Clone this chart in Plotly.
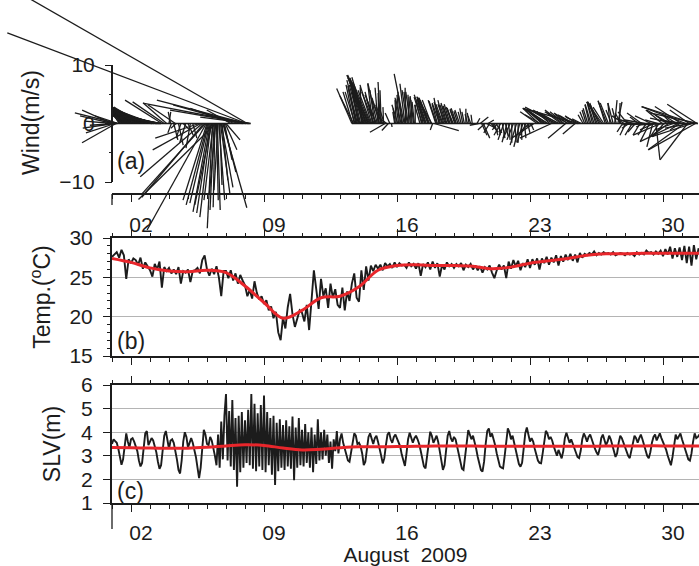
import pandas as pd
import plotly.graph_objects as go

# ---------------- data ----------------
START = pd.Timestamp("2009-08-01")

# (b) temperature, 3-hourly from 2009-08-01 00:00
temp_obs = [
    27.6, 27.9, 28.2, 27.5, 28.5, 27.8, 24.8, 27.3,
    26.8, 27.4, 27.2, 26.6, 27.5, 26.1, 26.9, 26.4,
    25.9, 25.1, 26.7, 26.0, 27.0, 23.7, 26.3, 25.8,
    26.2, 25.5, 26.0, 25.4, 26.3, 24.2, 25.8, 25.6,
    26.0, 24.4, 25.8, 25.9, 26.2, 25.5, 27.2, 27.8,
    26.0, 25.2, 26.1, 25.4, 26.4, 25.0, 22.6, 25.8,
    25.8, 24.9, 25.9, 24.6, 25.5, 24.2, 25.3, 24.6,
    24.0, 22.6, 23.4, 22.3, 24.5, 23.0, 22.2, 22.6,
    21.6, 22.1, 20.8, 21.3, 19.8, 20.6, 18.0, 17.0,
    19.9, 18.5, 21.2, 22.9, 20.3, 18.7, 19.6, 20.8,
    20.5, 19.4, 21.5, 18.3, 22.0, 25.9, 23.5, 21.0,
    24.8, 22.6, 23.6, 21.1, 24.2, 22.4, 23.5, 21.5,
    21.1, 23.7, 20.8, 23.2, 22.0, 24.2, 25.5, 22.4,
    21.9, 25.9, 23.4, 26.4, 24.6, 26.5, 25.8, 26.6,
    26.1, 26.6, 25.9, 26.8, 26.4, 26.7, 26.2, 26.9,
    26.3, 26.8, 26.5, 26.6, 26.2, 26.9, 26.4, 26.7,
    26.1, 26.8, 25.2, 26.7, 26.3, 26.9, 26.0, 27.0,
    26.2, 26.8, 25.1, 26.6, 26.0, 26.9, 26.4, 26.7,
    26.2, 26.7, 26.4, 26.8, 25.9, 26.6, 26.3, 26.7,
    26.0, 26.5, 25.9, 26.4, 25.6, 26.3, 26.0, 26.5,
    25.6, 24.9, 25.9, 26.6, 26.0, 26.5, 24.9, 27.0,
    26.1, 27.2, 26.4, 27.1, 25.9, 26.8, 26.3, 27.3,
    26.2, 27.3, 26.6, 27.4, 26.0, 27.4, 26.8, 27.6,
    26.6, 27.5, 26.9, 27.8, 26.5, 27.7, 27.0, 27.9,
    27.2, 28.0, 27.1, 27.9, 26.9, 28.1, 27.5, 28.0,
    27.8, 28.1, 27.9, 28.3, 27.8, 28.1, 27.9, 28.2,
    28.0, 28.1, 27.9, 28.2, 27.8, 28.0, 28.1, 28.0,
    27.8, 28.1, 27.9, 28.0, 27.7, 28.2, 27.9, 28.1,
    27.9, 28.4, 28.1, 28.2, 27.9, 28.3, 28.0, 28.4,
    27.7, 28.6, 27.9, 28.9, 27.4, 28.7, 27.6, 28.8,
    27.2, 29.0, 26.8, 28.9, 26.5, 29.1, 27.3, 28.7,
]
# (b) low-passed temperature, daily from 2009-08-01
temp_smooth = [27.4, 26.9, 26.2, 25.8, 25.7, 25.9, 25.6, 23.9, 21.8, 19.8,
               20.8, 22.4, 22.6, 23.8, 25.9, 26.5, 26.6, 26.5, 26.5, 26.4,
               26.1, 26.3, 26.8, 27.1, 27.4, 27.8, 28.0, 28.0, 28.05, 28.05,
               28.05, 28.05]

# (c) sea level, 2-hourly from 2009-08-01 00:00
slv_obs = [
    3.50, 3.70, 3.62, 3.55, 3.30, 2.95, 2.62, 2.85, 3.55, 3.95, 3.60, 3.35,
    3.70, 3.75, 3.60, 3.40, 3.20, 2.80, 2.55, 2.70, 3.40, 3.95, 4.05, 3.45,
    3.60, 3.75, 3.65, 3.45, 3.15, 2.75, 2.45, 2.60, 3.30, 3.85, 4.05, 3.70,
    3.30, 3.65, 3.70, 3.55, 3.25, 2.85, 2.40, 2.25, 2.80, 3.60, 4.00, 3.80,
    3.35, 3.55, 3.75, 3.55, 3.30, 2.95, 2.50, 2.05, 2.50, 3.40, 4.10, 3.90,
    3.50, 3.45, 3.80, 3.65, 3.35, 3.00, 2.60, 3.90, 2.50, 4.45, 2.85, 4.70,
    5.62, 2.80, 4.90, 2.55, 5.36, 2.40, 4.60, 1.69, 4.70, 2.30, 4.85, 2.50,
    4.50, 2.70, 4.95, 2.60, 5.62, 2.45, 5.20, 2.35, 4.80, 2.55, 5.15, 2.40,
    5.55, 2.30, 4.85, 2.60, 4.60, 2.20, 4.70, 1.76, 4.40, 2.35, 4.55, 2.50,
    4.30, 2.40, 4.50, 2.55, 4.25, 2.45, 4.66, 1.97, 4.20, 2.50, 4.60, 2.60,
    4.10, 2.55, 4.35, 2.70, 4.00, 2.50, 4.20, 2.30, 3.90, 2.65, 4.55, 2.80,
    4.00, 2.85, 4.10, 3.00, 3.90, 2.70, 3.60, 2.45, 3.70, 3.20, 4.05, 3.10,
    3.70, 3.95, 3.55, 3.30, 3.05, 2.80, 2.75, 3.10, 3.60, 3.95, 3.85, 3.50,
    3.55, 3.40, 3.10, 2.61, 2.75, 3.30, 3.80, 3.95, 3.70, 3.50, 3.75, 3.85,
    3.60, 3.35, 3.00, 2.68, 2.90, 3.45, 3.90, 4.00, 3.70, 3.55, 3.80, 3.90,
    3.75, 3.60, 3.40, 3.05, 2.75, 2.57, 3.10, 3.70, 3.98, 3.80, 3.55, 3.75,
    3.85, 3.70, 3.50, 3.20, 2.85, 2.55, 2.47, 3.00, 3.70, 4.02, 3.85, 3.55,
    3.70, 3.85, 3.60, 3.20, 2.80, 2.40, 2.60, 3.30, 3.85, 4.05, 3.75, 3.60,
    3.80, 3.70, 3.40, 3.05, 2.70, 2.45, 2.40, 2.90, 3.60, 4.09, 3.90, 3.70,
    3.85, 3.60, 3.30, 2.95, 2.60, 2.40, 2.33, 2.75, 3.50, 4.05, 4.16, 3.80,
    3.95, 3.75, 3.45, 3.10, 2.80, 2.55, 2.50, 2.47, 3.00, 3.75, 4.16, 4.00,
    3.70, 3.85, 3.55, 3.20, 2.90, 2.65, 2.54, 2.70, 3.30, 3.95, 4.20, 3.90,
    3.60, 3.75, 3.60, 3.30, 3.00, 2.80, 2.70, 2.68, 3.10, 3.70, 4.06, 3.95,
    3.70, 3.80, 3.65, 3.40, 3.15, 3.00, 3.25, 3.05, 2.89, 3.20, 3.75, 3.98,
    3.80, 3.55, 3.70, 3.50, 3.30, 3.10, 2.95, 2.90, 3.20, 3.70, 3.95, 3.80,
    3.60, 3.80, 3.90, 3.70, 3.45, 3.30, 3.15, 3.03, 3.30, 3.75, 3.90, 3.70,
    3.45, 3.60, 3.85, 3.70, 3.50, 3.20, 2.95, 3.10, 3.55, 3.85, 3.75, 3.55,
    3.40, 3.20, 3.00, 2.90, 3.20, 3.60, 3.85, 3.75, 3.55, 3.75, 3.90, 3.70,
    3.45, 3.20, 3.00, 2.90, 3.15, 3.55, 3.80, 3.90, 3.65, 3.80, 3.95, 3.75,
    3.60, 3.45, 3.25, 3.00, 2.75, 2.60, 2.95, 3.55, 3.90, 3.70, 3.85, 3.95,
    3.70, 3.50, 3.30, 3.05, 2.85, 2.80, 3.10, 3.60, 3.95, 3.75, 3.80, 3.90,
]
slv_smooth = [3.35, 3.34, 3.33, 3.32, 3.32, 3.36, 3.42, 3.47, 3.44, 3.33,
              3.25, 3.28, 3.34, 3.38, 3.38, 3.39, 3.40, 3.41, 3.41, 3.41,
              3.40, 3.40, 3.40, 3.40, 3.40, 3.40, 3.41, 3.41, 3.42, 3.42,
              3.41, 3.41]

# (a) wind sticks: hour after 2009-08-01 00:00, eastward u, northward v (m/s)
wind_hours = ([0, 1, 2, 3, 4, 5, 6, 7, 8]
              + list(range(9, 70, 3))
              + [72, 74, 75, 78, 80, 81, 84, 87, 90, 93, 96, 99, 102]
              + [110, 112, 114, 116, 118, 119]
              + [120, 121, 122, 123, 124, 125, 126, 127, 128, 129, 130, 131, 131,
                 132, 133, 134, 135, 136, 137, 138, 139, 140, 141, 142, 143, 144]
              + [150, 155, 160, 165, 169, 170, 171, 172, 173, 175]
              + [303, 305, 307, 309, 311, 313, 315, 317, 319, 321, 322, 323, 324, 325,
                 326, 327, 329, 331, 333, 335, 337, 339, 341, 343, 345, 347, 349, 351, 353]
              + list(range(357, 384, 2))
              + [389, 391, 393, 395, 397, 399, 401, 403, 404, 405] + list(range(407, 456, 2))
              + list(range(461, 534, 2))
              + list(range(537, 594, 2))
              + list(range(595, 642, 2))
              + list(range(643, 740, 2)) + [740]
              # in-between records
              + [10, 11, 13, 14, 16, 17, 19, 20, 22, 23, 25, 26, 28, 29, 31, 32, 34, 35,
                 37, 38, 40, 41, 43, 44, 46, 47, 49, 50, 52, 53, 55, 56, 58, 59, 61, 62]
              + [304, 306, 308, 310, 312, 314, 316, 318, 320, 328, 330, 332, 334, 336,
                 338, 340, 342, 344]
              + [358, 362, 366, 370, 374, 378, 382]
              + [392, 396, 400, 410, 414, 418, 422, 426, 430, 434])
wind_u = ([-5.1, -5.6, -5.0, -5.4, -5.0, -5.8, -4.6, -7.3, -4.0]
          + [-1.2, -1.45, -2.0, -2.3, -2.8, -3.1, -3.7, -3.7, -4.3, -4.9, -4.8, -5.5, -5.7,
             -6.3, -6.2, -7.0, -6.9, -6.8, -6.3, -5.4, -4.0]
          + [0.3, -0.4, -0.6, 0.7, -4.7, -0.9, 0.8, -0.8, 1.1, -1.0, 0.9, -0.75, 0.7]
          + [-7.5, -8.2, -10.6, -10.6, -11.0, -10.1]
          + [-4.1, -3.7, -3.2, -2.8, -2.3, -1.9, -2.9, -0.9, -1.6, -0.7, -0.3, -1.1, -13.2,
             0.3, 0.5, -0.7, 1.0, 0.4, 1.6, 2.0, 1.0, 4.1, 2.1, 1.3, 2.0, 2.4]
          + [-4.1, -7.6, -11.2, -6.0, -15.2, -40.9, -45.7, -18.0, -13.5, -8.6]
          + [-2.6, -2.3, -1.7, -1.5, -1.4, -1.8, -0.2, -2.2, -2.8, -3.3, -3.2, -2.7, -3.2, -3.7,
             -2.8, -2.2, -0.8, -2.1, -1.5, -1.6, -0.1, -0.4, -1.7, -0.1, -2.6, -1.5, -1.1, -0.8, 0.1]
          + [-0.3, -0.2, -1.0, -0.4, -0.9, -0.8, -1.7, -0.1, -0.9, -0.15, -0.8, -0.2, -0.6, 0.0]
          + [-0.9, -0.9, -1.0, -1.8, -1.6, -1.7, -1.6, -1.5, -2.5, -0.4,
             4.2, -1.3, -0.9, -0.85, -1.1, -1.2, -1.0, -1.25, -1.0, -0.9, -1.0, -0.8, -1.2,
             -0.8, -0.9, -0.7, -0.8, -0.5, -0.5, -0.4, 0.0, -0.4, -0.3, -0.45, -0.2]
          + [0.5, -1.5, 1.4, 0.9, 1.1, -1.2, 1.6, 1.0, -1.0, 1.2, 0.4, 0.6, 1.0, -0.9, 0.15,
             -1.15, 0.45, -1.0, 0.45, -0.85, 0.25, -1.2, 0.0, -1.1, 0.2, -1.1, 0.0, -1.0, 0.1,
             -1.0, 0.25, -1.0, 0.4, -1.2, 0.5, -1.1, -3.8]
          + [-2.9, -2.7, -2.6, -2.5, -3.3, -2.6, -3.2, -4.3, -2.2, -5.4, -3.9, -3.0, -5.3, -3.0,
             -4.5, -2.4, -3.0, -2.4, -3.0, -2.1, -4.1, -2.1, -3.1, -2.3, -2.1, -2.0, -9.5, -2.4, -1.6]
          + [-0.85, -0.8, -0.7, -0.8, -0.75, -1.0, -0.95, -1.2, -1.0, -1.6, -1.5, -2.3, -2.6,
             -1.8, -1.2, -1.5, -1.4, -0.35, -0.95, -0.9, 0.4, -0.7, 0.7, 0.1]
          + [-1.0, -0.95, -2.1, -1.0, -1.6, -1.2, -2.65, -1.2, -2.3, -1.25, -2.5, -1.45, -1.2,
             -2.5, -1.2, -3.4, -1.45, -3.1, -1.6, -2.75, -1.0, -2.45, 0.7, -2.1, -1.5, -4.7,
             -2.8, -1.85, -4.3, -2.05, -3.5, -4.0, -1.5, -3.1, -4.25, -2.25, -6.5, -1.65, -4.5,
             -3.9, -6.2, -7.6, -4.7, -3.3, -4.4, -6.9, -8.9, -8.05, -5.1, -8.2]
          + [-1.2, -1.5, -1.6, -1.9, -2.0, -2.3, -2.2, -2.7, -2.8, -3.1, -3.2, -3.2, -3.8, -3.8,
             -4.2, -4.0, -4.4, -4.7, -4.7, -5.0, -5.4, -5.0, -5.6, -5.9, -5.9, -6.2, -6.6, -6.3,
             -6.9, -6.5, -7.1, -6.5, -7.2, -6.6, -6.5, -6.0]
          + [-1.65, -1.4, -1.2, -1.8, -1.2, -1.8, -1.1, -2.2, -2.3, -2.0, -1.4, -0.85, -1.95,
             -0.5, -1.3, -0.2, -1.2, -0.75]
          + [-0.4, -0.6, -0.65, -0.85, -0.7, -0.4, -0.4]
          + [-1.4, -1.45, -1.65, -1.3, -1.3, -1.2, -1.05, -1.1, -0.9, -0.95])
wind_v = ([2.3, 1.3, 0.4, -0.8, -1.6, -3.3, -0.3, 1.8, 1.3]
          + [2.0, 2.3, 2.5, 2.1, 2.6, 2.3, 2.0, 2.5, 2.1, 2.6, 2.3, 1.8, 2.3, 2.0, 1.6, 2.1,
             1.6, 1.3, 4.0, 3.7, 3.5]
          + [2.0, 2.0, -1.6, -2.8, 3.2, -0.8, -3.7, -2.5, -1.1, -3.3, -2.0, -4.2, -2.5]
          + [-2.5, -4.5, -9.1, -12.6, -12.2, -18.2]
          + [-13.1, -13.9, -13.6, -15.1, -15.3, -16.0, -13.9, -17.9, -13.1, -14.8, -14.3,
             -12.2, -13.0, -13.1, -14.8, -11.4, -13.1, -10.5, -11.9, -10.9, -9.7, -14.4, -8.3,
             -6.2, -4.5, -2.8]
          + [2.3, 2.6, 3.2, 1.5, 4.0, 15.5, 26.2, 3.5, 2.3, 1.1]
          + [6.0, 4.7, 5.4, 6.4, 7.4, 6.6, 6.2, 6.9, 7.8, 8.3, 7.8, 7.1, 7.4, 8.3, 6.7, 5.7,
             6.8, 5.4, 4.0, 6.9, 5.2, 7.1, 4.0, 2.8, -1.5, 1.1, -1.2, 1.8, -0.6]
          + [2.0, 4.0, 3.2, 4.9, 4.2, 5.4, 8.5, 6.1, 5.7, 4.9, 5.4, 4.0, 4.7, 3.2]
          + [3.2, 3.7, 4.5, 4.9, 4.6, 4.4, 4.0, 4.0, 4.5, -1.1,
             -1.2, 4.0, 3.3, 4.4, 3.7, 3.0, 4.0, 3.3, 3.5, 3.0, 3.3, 2.6, 2.8, 2.3, 2.6, 2.1,
             2.3, 2.0, 2.6, 2.0, 2.5, 1.6, 1.8, 1.3, 1.5]
          + [0.9, -0.3, 1.1, -2.0, -2.5, -1.1, -0.8, 0.6, -1.6, -1.5, -0.8, -2.0, -1.6, -1.1,
             -2.0, -2.0, -2.5, -2.8, -2.1, -3.2, -2.8, -2.5, -3.3, -2.8, -3.2, -3.7, -3.3,
             -4.0, -2.8, -3.3, -2.5, -2.0, -1.6, -1.1, -1.1, -0.6, -2.5]
          + [2.0, 2.6, 1.5, 2.3, 2.6, 1.8, 2.3, 2.6, 2.0, -2.5, 2.3, 2.0, 2.8, 1.8, 2.3, 1.8,
             2.3, 2.0, -2.5, 1.6, 2.0, 1.5, 1.8, 1.3, -1.8, 1.3, 2.6, 1.1, 0.8]
          + [1.5, 2.0, 2.3, 2.6, 3.2, 3.3, 3.7, 3.7, 3.5, 3.7, 3.3, 3.7, 3.7, 2.8, 3.9, 3.85,
             3.5, 3.5, 2.3, 3.5, 4.0, 2.6, 3.7, 3.5]
          + [1.8, -1.45, 1.3, -2.0, 2.0, -0.8, 0.9, -2.0, 0.6, -1.45, -0.25, 1.1, -2.0, 1.8,
             -0.6, 0.6, -2.0, -0.25, -3.1, 1.3, -4.0, -1.1, -6.2, 0.6, -2.3, -2.0, 2.3, -2.25,
             -0.25, 1.45, -2.5, 2.3, 1.45, -1.1, 0.9, 1.45, -3.1, -1.1, 2.9, 0.6, -4.5, 2.9,
             -6.2, 2.3, -0.8, -2.25, 2.9, -4.5, 3.3, 1.8]
          + [2.6, 1.6, 2.0, 2.8, 1.5, 2.3, 2.8, 1.8, 2.5, 1.5, 2.8, 2.0, 2.3, 1.3, 2.8, 1.8,
             2.5, 1.6, 2.8, 2.1, 2.6, 1.5, 2.3, 1.8, 2.6, 2.0, 2.3, 1.5, 2.5, 1.8, 2.0, 1.5,
             1.8, 1.1, 1.3, 0.9]
          + [5.4, 6.6, 5.7, 7.4, 6.1, 7.8, 5.7, 7.4, 7.9, 6.6, 5.4, 5.7, 4.9, 6.1, 4.4, 5.7,
             3.2, 2.3]
          + [2.6, 4.4, 5.0, 6.8, 5.4, 4.5, 3.7]
          + [4.5, 4.2, 4.4, 3.85, 3.5, 3.3, 3.2, 3.0, 2.65, 2.5])
assert len(wind_hours) == len(wind_u) == len(wind_v), (len(wind_hours), len(wind_u), len(wind_v))

tick_dates = ["2009-08-02", "2009-08-09", "2009-08-16", "2009-08-23", "2009-08-30"]
tick_text = ["02", "09", "16", "23", "30"]

# ---------------- layout geometry ----------------
W, H = 699, 566
X0PX = 112                # left edge of panels (px)
PX_PER_DAY = 19.0
PX_PER_MS = 5.85          # stick scale, identical in x and y
A_ZERO_PX, A_BOT_PX = 123.5, 245
A_AXIS_PX = 194
B_TOP, B_BOT = 238, 356
C_TOP, C_BOT = 385, 503
LABEL_SHIFT = 10          # tick labels sit in the middle of the day

def yp(px):
    return 1 - px / H

END = START + pd.Timedelta(days=(W - X0PX) / PX_PER_DAY)
A_START = START - pd.Timedelta(days=X0PX / PX_PER_DAY)
stick_k = pd.Timedelta(days=PX_PER_MS / PX_PER_DAY)   # time span of 1 m/s

INK = "#1c1c1c"
RED = "#e8262b"
GRID = "#b4b4b4"
FONT = "Liberation Sans, Arial, sans-serif"
TICKF = dict(family=FONT, size=21, color=INK)
TITLEF = dict(family=FONT, size=23, color=INK)

fig = go.Figure()

# ---- (a) wind sticks (records ordered in time)
order = sorted(range(len(wind_hours)), key=lambda i: wind_hours[i])
sx, sy, bx, by = [], [], [], []
prev = None
for i in order:
    h = wind_hours[i]
    t = START + pd.Timedelta(hours=h)
    sx += [t, t + wind_u[i] * stick_k, None]
    sy += [0, wind_v[i], None]
    if prev is not None and h - prev > 24:
        bx.append(None); by.append(None)
    bx.append(t); by.append(0)
    prev = h
fig.add_trace(go.Scatter(x=bx, y=by, mode="lines", line=dict(color=INK, width=1.5),
                         xaxis="x2", yaxis="y2", hoverinfo="skip", showlegend=False))
fig.add_trace(go.Scatter(x=sx, y=sy, mode="lines", line=dict(color=INK, width=1.3),
                         xaxis="x2", yaxis="y2", hoverinfo="skip", showlegend=False))
# carrier for the free date axis under panel (a)
fig.add_trace(go.Scatter(x=[START], y=[None], mode="lines", xaxis="x5", yaxis="y2",
                         hoverinfo="skip", showlegend=False))

# ---- (b) temperature
t3 = pd.date_range(START, periods=len(temp_obs), freq="3h")
td = pd.date_range(START, periods=len(temp_smooth), freq="D")
fig.add_trace(go.Scatter(x=t3, y=temp_obs, mode="lines", line=dict(color=INK, width=1.9),
                         xaxis="x", yaxis="y", hoverinfo="skip", showlegend=False))
fig.add_trace(go.Scatter(x=td, y=temp_smooth, mode="lines",
                         line=dict(color=RED, width=3, shape="spline", smoothing=1.0),
                         xaxis="x", yaxis="y", hoverinfo="skip", showlegend=False))

# ---- (c) sea level
t2 = pd.date_range(START, periods=len(slv_obs), freq="2h")
sd = pd.date_range(START, periods=len(slv_smooth), freq="D")
fig.add_trace(go.Scatter(x=t2, y=slv_obs, mode="lines", line=dict(color=INK, width=1.9),
                         xaxis="x3", yaxis="y3", hoverinfo="skip", showlegend=False))
fig.add_trace(go.Scatter(x=sd, y=slv_smooth, mode="lines",
                         line=dict(color=RED, width=3, shape="spline", smoothing=1.0),
                         xaxis="x3", yaxis="y3", hoverinfo="skip", showlegend=False))

xdom = [X0PX / W, 1]
minor_x = dict(ticks="outside", dtick=86400000, tick0="2009-08-01", ticklen=3.5,
               tickcolor=INK, tickwidth=1.3, showgrid=False)

def date_axis(**kw):
    d = dict(type="date", range=[START, END], domain=xdom, showline=True, linecolor=INK,
             linewidth=2, ticks="outside", tickcolor=INK, tickwidth=1.3, ticklen=7,
             tickmode="array", tickvals=tick_dates, ticktext=tick_text, minor=minor_x,
             showgrid=False, zeroline=False, tickfont=TICKF, fixedrange=True,
             automargin=False)
    d.update(kw)
    return d

def val_axis(**kw):
    d = dict(showline=True, linecolor=INK, linewidth=2, ticks="outside", tickcolor=INK,
             tickwidth=1.3, ticklen=7, showgrid=True, gridcolor=GRID, gridwidth=1,
             zeroline=False, tickfont=TICKF, ticklabelstandoff=6, fixedrange=True,
             automargin=False)
    d.update(kw)
    return d

fig.update_layout(
    width=W, height=H, autosize=False,
    margin=dict(l=0, r=0, t=0, b=0, pad=0, autoexpand=False),
    paper_bgcolor="white", plot_bgcolor="rgba(0,0,0,0)",
    font=dict(family=FONT, color=INK),
    showlegend=False,
    # panel (b)
    xaxis=date_axis(anchor="y", mirror="allticks", showticklabels=False),
    yaxis=val_axis(domain=[yp(B_BOT), yp(B_TOP)], range=[15, 30], tickmode="array",
                   tickvals=[15, 20, 25, 30], anchor="x",
                   minor=dict(ticks="outside", dtick=1, ticklen=3.5, tickcolor=INK,
                              tickwidth=1.2, showgrid=False),
                   title=dict(text="Temp.(<sup>o</sup>C)", font=TITLEF, standoff=12)),
    # panel (c)
    xaxis3=date_axis(anchor="y3", mirror="allticks", showticklabels=True,
                     ticklabelshift=LABEL_SHIFT, ticklabelstandoff=3,
                     title=dict(text="August\u00a0\u00a02009", font=dict(family=FONT, size=21, color=INK),
                                standoff=5)),
    yaxis3=val_axis(domain=[yp(C_BOT), yp(C_TOP)], range=[1, 6], tickmode="array",
                    tickvals=[1, 2, 3, 4, 5, 6], anchor="x3",
                    title=dict(text="SLV(m)", font=TITLEF, standoff=14)),
    # panel (a)
    xaxis2=dict(type="date", domain=[0, 1], range=[A_START, END], visible=False,
                fixedrange=True, anchor="y2", automargin=False),
    yaxis2=dict(domain=[yp(A_BOT_PX), 1],
                range=[-(A_BOT_PX - A_ZERO_PX) / PX_PER_MS, A_ZERO_PX / PX_PER_MS],
                anchor="free", position=X0PX / W, showline=False, showgrid=False,
                zeroline=False, ticks="outside", tickcolor=INK, tickwidth=1.3, ticklen=7,
                tickmode="array", tickvals=[-10, 0, 10],
                minor=dict(ticks="outside", tickvals=[-5, 5], ticklen=3.5, tickcolor=INK,
                           tickwidth=1.2, showgrid=False),
                tickfont=TICKF, ticklabelstandoff=6, fixedrange=True, automargin=False,
                title=dict(text="Wind(m/s)", font=TITLEF, standoff=12)),
    xaxis5=date_axis(anchor="free", position=yp(A_AXIS_PX), showticklabels=True,
                     ticklabelshift=LABEL_SHIFT, ticklabelstandoff=5),
)

# axis line of panel (a) spans only -10..10; long start-ticks below the dated axes
fig.add_shape(type="line", xref="x2", yref="y2", x0=START, x1=START, y0=-10, y1=10,
              line=dict(color=INK, width=2))
fig.add_shape(type="line", xref="paper", yref="paper", x0=X0PX / W, x1=X0PX / W,
              y0=yp(A_AXIS_PX), y1=yp(A_AXIS_PX + 11), line=dict(color=INK, width=1.3))
fig.add_shape(type="line", xref="paper", yref="paper", x0=X0PX / W, x1=X0PX / W,
              y0=yp(C_BOT), y1=yp(C_BOT + 26), line=dict(color=INK, width=1.3))

for lab, ypx in [("(a)", 161), ("(b)", 341), ("(c)", 491)]:
    fig.add_annotation(text=lab, xref="paper", yref="paper", x=(X0PX + 3) / W, y=yp(ypx),
                       xanchor="left", yanchor="middle", showarrow=False,
                       font=dict(family=FONT, size=23, color=INK))

fig.write_html("out.html", config={"displayModeBar": False, "responsive": False},
               post_script="document.body.style.margin='0px';document.body.style.overflow='hidden';")
